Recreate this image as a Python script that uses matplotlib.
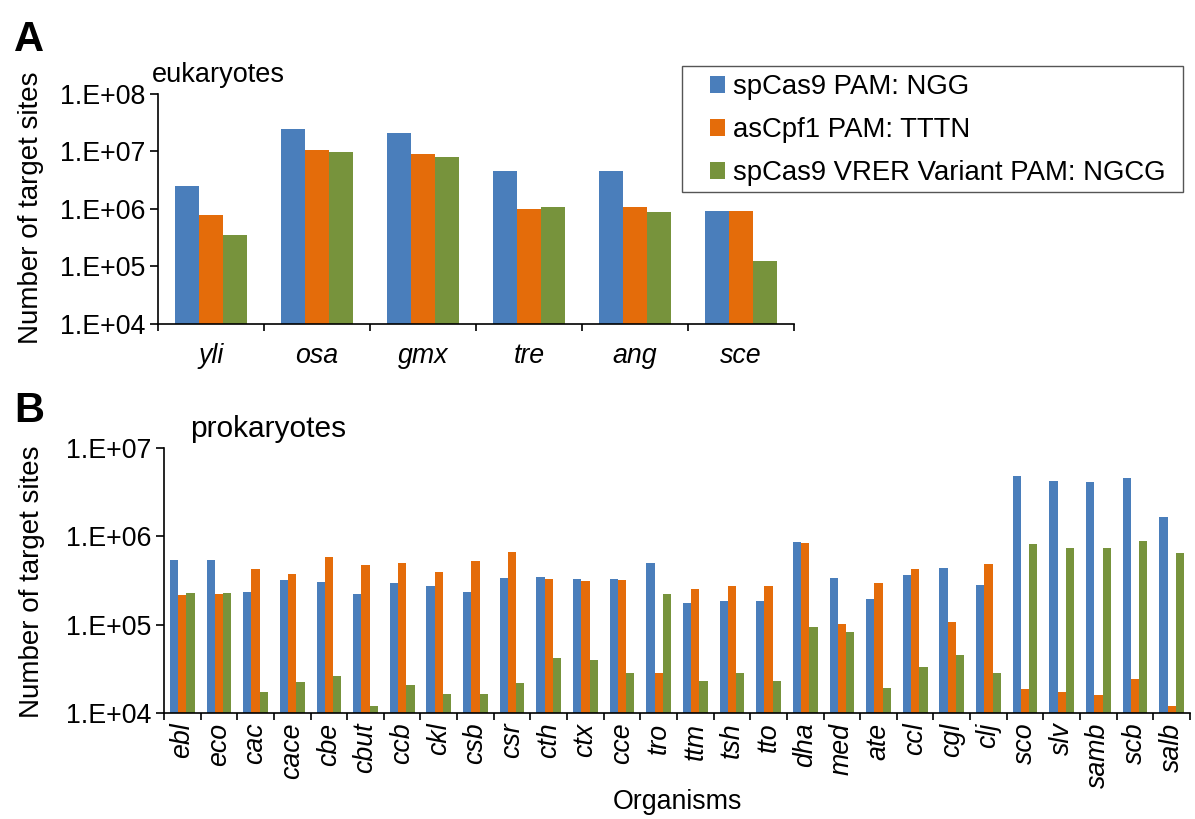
import numpy as np
from matplotlib import pyplot as plt
from matplotlib import ticker
from matplotlib.patches import Rectangle

plt.rcParams['font.family'] = ['Liberation Sans', 'DejaVu Sans']

# eukaryotes (panel A)
euk_names = ['yli', 'osa', 'gmx', 'tre', 'ang', 'sce']
euk_ngg = [2.5e6, 2.5e7, 2.1e7, 4.6e6, 4.6e6, 9.3e5]
euk_tttn = [8.0e5, 1.07e7, 9.1e6, 1.0e6, 1.1e6, 9.3e5]
euk_ngcg = [3.6e5, 9.9e6, 8.0e6, 1.1e6, 8.8e5, 1.25e5]

# prokaryotes (panel B)
pro_names = ['ebl', 'eco', 'cac', 'cace', 'cbe', 'cbut', 'ccb', 'ckl', 'csb', 'csr',
             'cth', 'ctx', 'cce', 'tro', 'ttm', 'tsh', 'tto', 'dha', 'med', 'ate',
             'ccl', 'cgl', 'clj', 'sco', 'slv', 'samb', 'scb', 'salb']
pro_ngg = [5.4e5, 5.4e5, 2.36e5, 3.23e5, 3.04e5, 2.22e5, 2.96e5, 2.71e5, 2.36e5, 3.41e5,
           3.44e5, 3.32e5, 3.32e5, 4.96e5, 1.77e5, 1.86e5, 1.83e5, 8.55e5, 3.41e5, 1.93e5,
           3.62e5, 4.4e5, 2.79e5, 4.88e6, 4.2e6, 4.1e6, 4.59e6, 1.66e6]
pro_tttn = [2.14e5, 2.22e5, 4.3e5, 3.75e5, 5.9e5, 4.71e5, 4.96e5, 3.95e5, 5.28e5, 6.68e5,
            3.32e5, 3.12e5, 3.23e5, 2.81e4, 2.55e5, 2.74e5, 2.74e5, 8.33e5, 1.02e5, 2.96e5,
            4.3e5, 1.08e5, 4.8e5, 1.88e4, 1.72e4, 1.58e4, 2.4e4, 1.19e4]
pro_ngcg = [2.28e5, 2.28e5, 1.72e4, 2.24e4, 2.62e4, 1.19e4, 2.05e4, 1.66e4, 1.66e4, 2.16e4,
            4.2e4, 3.99e4, 2.81e4, 2.22e5, 2.3e4, 2.81e4, 2.3e4, 9.3e4, 8.3e4, 1.93e4,
            3.32e4, 4.55e4, 2.86e4, 8.1e5, 7.43e5, 7.43e5, 8.85e5, 6.5e5]

series_labels = ['spCas9 PAM: NGG', 'asCpf1 PAM: TTTN', 'spCas9 VRER Variant PAM: NGCG']
colors = ['#4a7ebb', '#e46c0a', '#77933c']

W, H = 1195, 819
fig = plt.figure(figsize=(W / 100, H / 100), dpi=100)

def fig_rect(x0, y0, x1, y1):  # pixel box -> figure fraction
    return [x0 / W, 1 - y1 / H, (x1 - x0) / W, (y1 - y0) / H]

axA = fig.add_axes(fig_rect(158, 94, 794, 324))
axB = fig.add_axes(fig_rect(164, 448, 1190, 713))

fs = 19.3
w = 0.225

def sci_fmt(v, pos):
    return '1.E+%02d' % int(round(np.log10(v)))

def draw_panel(ax, names, groups, ymax, rot):
    x = np.arange(len(names))
    for k, vals in enumerate(groups):
        ax.bar(x + (k - 1) * w, vals, w, color=colors[k], label=series_labels[k], linewidth=0)
    ax.set_yscale('log')
    ax.set_ylim(1e4, ymax)
    ax.set_xlim(-0.5, len(names) - 0.5)
    ax.yaxis.set_major_locator(ticker.LogLocator(base=10, numticks=10))
    ax.yaxis.set_minor_locator(ticker.NullLocator())
    ax.yaxis.set_major_formatter(ticker.FuncFormatter(sci_fmt))
    ax.set_xticks(x)
    ax.set_xticks(np.arange(len(names) + 1) - 0.5, minor=True)
    for sp in ['top', 'right']:
        ax.spines[sp].set_visible(False)
    for sp in ['left', 'bottom']:
        ax.spines[sp].set_linewidth(1.2)
    ax.tick_params(axis='y', which='major', direction='out', length=6, width=1.2, labelsize=fs, pad=3)
    ax.tick_params(axis='x', which='major', length=0)
    ax.tick_params(axis='x', which='minor', direction='out', length=5, width=1.2)
    if rot:
        ax.set_xticklabels(names, rotation=90, style='italic', fontsize=fs, va='top')
        ax.tick_params(axis='x', which='major', pad=7)
    else:
        ax.set_xticklabels(names, style='italic', fontsize=fs)
        ax.tick_params(axis='x', which='major', pad=14)

draw_panel(axA, euk_names, [euk_ngg, euk_tttn, euk_ngcg], 1e8, False)
draw_panel(axB, pro_names, [pro_ngg, pro_tttn, pro_ngcg], 1e7, True)

axB.set_xlabel('Organisms', fontsize=fs, labelpad=1)

# y labels, both at the same x
fig.text(31 / W, 1 - 208 / H, 'Number of target sites', rotation=90, fontsize=20,
         ha='center', va='center')
fig.text(32 / W, 1 - 582 / H, 'Number of target sites', rotation=90, fontsize=20,
         ha='center', va='center')

fig.text(152 / W, 1 - 82 / H, 'eukaryotes', fontsize=19.5, ha='left', va='baseline')
fig.text(190 / W, 1 - 437 / H, 'prokaryotes', fontsize=21.5, ha='left', va='baseline')

fig.text(14 / W, 1 - 20 / H, 'A', fontsize=30, fontweight='bold', ha='left', va='top')
fig.text(14 / W, 1 - 391 / H, 'B', fontsize=30, fontweight='bold', ha='left', va='top')

# legend box drawn by hand, legend itself frameless
fig.patches.append(Rectangle((682 / W, 1 - 192 / H), (1183 - 682) / W, (192 - 66) / H,
                             transform=fig.transFigure, fill=False, edgecolor='#555555',
                             linewidth=1.0))
h, l = axA.get_legend_handles_labels()
fig.legend(h, l, loc='upper left', bbox_to_anchor=(710 / W, 1 - 74 / H), frameon=False,
           fontsize=19.8, borderpad=0, borderaxespad=0, handlelength=0.55, handleheight=0.55,
           handletextpad=0.3, labelspacing=0.62)

fig.savefig('out.png', dpi=100)
